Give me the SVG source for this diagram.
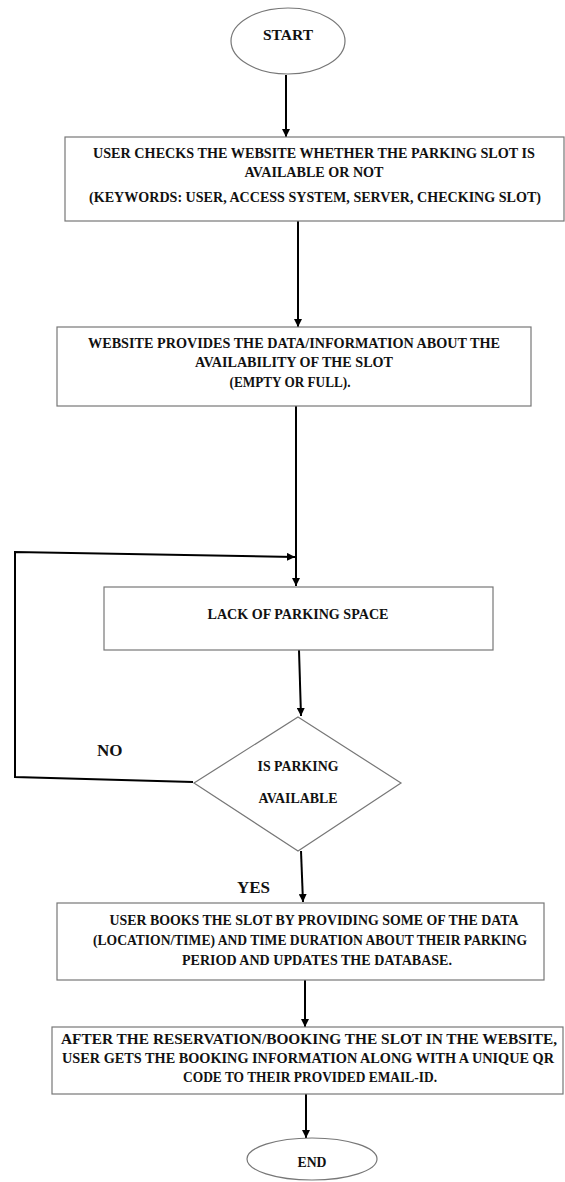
<svg xmlns="http://www.w3.org/2000/svg" width="565" height="1182" viewBox="0 0 565 1182">
<style>
.box{fill:#fff;stroke:#777;stroke-width:1.2}
text{font-family:"Liberation Serif","DejaVu Serif","Times New Roman",serif;font-weight:bold;fill:#111}
.t{font-size:14px}
.c{text-anchor:middle}
.lbl{font-size:17px}
.con{fill:none;stroke:#000;stroke-width:2}
</style>
<defs>
<marker id="ah" viewBox="0 0 10 10" refX="10" refY="5" markerWidth="4" markerHeight="4" orient="auto" markerUnits="strokeWidth">
<path d="M0,0 L10,5 L0,10 z" fill="#000"/>
</marker>
</defs>
<rect width="565" height="1182" fill="#fff"/>
<g id="connectors">
<line class="con" x1="286" y1="75" x2="286" y2="137" marker-end="url(#ah)"/>
<line class="con" x1="298" y1="221" x2="298" y2="327" marker-end="url(#ah)"/>
<line class="con" x1="296" y1="406" x2="296" y2="586" marker-end="url(#ah)"/>
<line class="con" x1="299" y1="650" x2="301" y2="716" marker-end="url(#ah)"/>
<polyline class="con" points="193,782 15,777 15,552 295,557" marker-end="url(#ah)"/>
<line class="con" x1="301" y1="851" x2="303" y2="902" marker-end="url(#ah)"/>
<line class="con" x1="305" y1="980" x2="305" y2="1027" marker-end="url(#ah)"/>
<line class="con" x1="306" y1="1094" x2="306" y2="1138" marker-end="url(#ah)"/>
</g>
<g id="start">
<ellipse class="box" cx="288" cy="41" rx="57" ry="33"/>
<text class="t c" x="288" y="40" textLength="50" lengthAdjust="spacingAndGlyphs">START</text>
</g>
<g id="check">
<rect class="box" x="65" y="137" width="499" height="84"/>
<text class="t c" x="314" y="158" textLength="442" lengthAdjust="spacingAndGlyphs">USER CHECKS THE WEBSITE WHETHER THE PARKING SLOT IS</text>
<text class="t c" x="314" y="177" textLength="139" lengthAdjust="spacingAndGlyphs">AVAILABLE OR NOT</text>
<text class="t c" x="315" y="202" textLength="452" lengthAdjust="spacingAndGlyphs">(KEYWORDS: USER, ACCESS SYSTEM, SERVER, CHECKING SLOT)</text>
</g>
<g id="provide">
<rect class="box" x="57" y="327" width="474" height="79"/>
<text class="t c" x="294" y="348" textLength="412" lengthAdjust="spacingAndGlyphs">WEBSITE PROVIDES THE DATA/INFORMATION ABOUT THE</text>
<text class="t c" x="294" y="367" textLength="198" lengthAdjust="spacingAndGlyphs">AVAILABILITY OF THE SLOT</text>
<text class="t c" x="290" y="387" textLength="121" lengthAdjust="spacingAndGlyphs">(EMPTY OR FULL).</text>
</g>
<g id="lack">
<rect class="box" x="104" y="587" width="389" height="63"/>
<text class="t c" x="298" y="619" textLength="181" lengthAdjust="spacingAndGlyphs">LACK OF PARKING SPACE</text>
</g>
<g id="decision">
<polygon class="box" points="298,717 401,783 298,851 194,783"/>
<text class="t c" x="298" y="771" textLength="81" lengthAdjust="spacingAndGlyphs">IS PARKING</text>
<text class="t c" x="298" y="803" textLength="79" lengthAdjust="spacingAndGlyphs">AVAILABLE</text>
</g>
<g id="label-no"><text class="lbl" x="97" y="756">NO</text></g>
<g id="label-yes"><text class="lbl" x="237" y="893">YES</text></g>
<g id="book">
<rect class="box" x="57" y="903" width="487" height="77"/>
<text class="t c" x="314" y="925" textLength="409" lengthAdjust="spacingAndGlyphs">USER BOOKS THE SLOT BY PROVIDING SOME OF THE DATA</text>
<text class="t c" x="310" y="945" textLength="434" lengthAdjust="spacingAndGlyphs">(LOCATION/TIME) AND TIME DURATION ABOUT THEIR PARKING</text>
<text class="t c" x="317" y="965" textLength="270" lengthAdjust="spacingAndGlyphs">PERIOD AND UPDATES THE DATABASE.</text>
</g>
<g id="reserve">
<rect class="box" x="52" y="1027" width="511" height="67"/>
<text class="t c" x="309" y="1044" textLength="496" lengthAdjust="spacingAndGlyphs">AFTER THE RESERVATION/BOOKING THE SLOT IN THE WEBSITE,</text>
<text class="t c" x="308" y="1063" textLength="492" lengthAdjust="spacingAndGlyphs">USER GETS THE BOOKING INFORMATION ALONG WITH A UNIQUE QR</text>
<text class="t c" x="310" y="1082" textLength="254" lengthAdjust="spacingAndGlyphs">CODE TO THEIR PROVIDED EMAIL-ID.</text>
</g>
<g id="end">
<ellipse class="box" cx="312" cy="1159" rx="65" ry="21"/>
<text class="t c" x="312" y="1167" textLength="29" lengthAdjust="spacingAndGlyphs">END</text>
</g>
</svg>
